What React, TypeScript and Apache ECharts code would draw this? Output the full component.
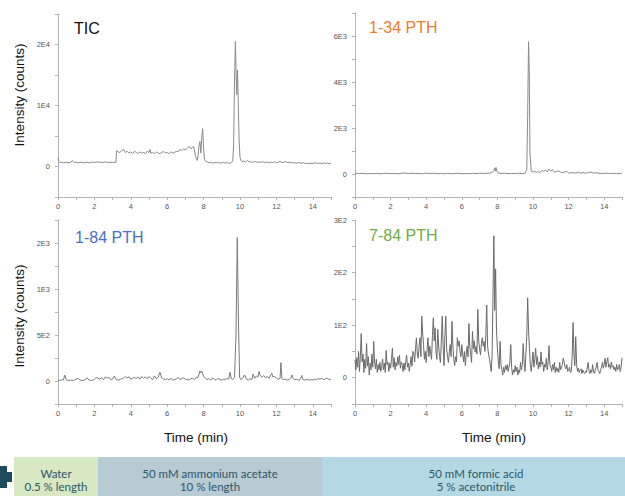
import React, { useEffect, useRef } from "react";
import * as echarts from "echarts";

// ---------- DATA ----------
const panelTitles = ["TIC", "1-34 PTH", "1-84 PTH", "7-84 PTH"];
const xTickLabels = ["0", "2", "4", "6", "8", "10", "12", "14"];
const yTickLabelsTIC: Record<number, string> = { 0: "0", 10000: "1E4", 20000: "2E4" };
const yTickLabels134: Record<number, string> = { 0: "0", 2000: "2E3", 4000: "4E3", 6000: "6E3" };
const yTickLabels184: Record<number, string> = { 0: "0", 500: "5E2", 1000: "1E3", 1500: "2E3" };
const yTickLabels784: Record<number, string> = { 0: "0", 100: "1E2", 200: "2E2", 300: "3E2" };

const ticData: [number, number][] = [
  [0, 1400], [0.05, 800], [0.1, 650], [0.2, 700], [0.3, 600], [0.4, 700], [0.5, 650], [0.6, 600], [0.7, 750], [0.8, 900],
  [0.9, 650], [1.0, 700], [1.1, 600], [1.2, 650], [1.3, 700], [1.4, 600], [1.5, 650], [1.6, 700], [1.7, 600], [1.8, 650],
  [1.9, 750], [2.0, 650], [2.1, 700], [2.2, 800], [2.3, 650], [2.4, 700], [2.5, 650], [2.6, 750], [2.7, 700], [2.8, 650],
  [2.9, 700], [3.0, 650], [3.1, 700], [3.18, 650], [3.22, 2600], [3.3, 2400], [3.4, 2300], [3.5, 2600], [3.6, 2800], [3.7, 2300],
  [3.8, 2500], [3.9, 2200], [4.0, 2400], [4.1, 2100], [4.2, 2500], [4.3, 2300], [4.4, 2100], [4.5, 2400], [4.6, 2200], [4.7, 2300],
  [4.8, 2100], [4.9, 2500], [5.0, 2300], [5.05, 2800], [5.1, 2200], [5.2, 2300], [5.3, 2100], [5.4, 2400], [5.5, 2200], [5.6, 2100],
  [5.7, 2300], [5.8, 2500], [5.9, 2200], [6.0, 2300], [6.1, 2100], [6.2, 2400], [6.3, 2200], [6.4, 2300], [6.5, 2500], [6.6, 2400],
  [6.7, 2800], [6.8, 2600], [6.9, 2900], [7.0, 2700], [7.1, 3000], [7.2, 3300], [7.3, 2900], [7.4, 3200], [7.45, 3300], [7.5, 2600],
  [7.55, 1800], [7.6, 1300], [7.65, 1000], [7.7, 1800], [7.75, 3500], [7.8, 4100], [7.85, 2200], [7.9, 4800], [7.95, 6200], [8.0, 2800],
  [8.05, 1200], [8.1, 900], [8.2, 750], [8.3, 600], [8.4, 700], [8.5, 550], [8.6, 650], [8.7, 600], [8.8, 700], [8.9, 550],
  [9.0, 600], [9.1, 700], [9.2, 550], [9.3, 650], [9.4, 500], [9.5, 600], [9.6, 900], [9.65, 3500], [9.7, 14000], [9.75, 20500],
  [9.78, 16000], [9.82, 11800], [9.86, 15800], [9.9, 11000], [9.95, 4500], [10.0, 1500], [10.05, 1000], [10.1, 800], [10.2, 900], [10.3, 700],
  [10.4, 1000], [10.5, 750], [10.6, 800], [10.7, 650], [10.8, 850], [10.9, 700], [11.0, 750], [11.1, 650], [11.2, 800], [11.3, 700],
  [11.4, 650], [11.5, 750], [11.6, 600], [11.7, 700], [11.8, 650], [11.9, 800], [12.0, 600], [12.1, 700], [12.2, 850], [12.3, 650],
  [12.4, 700], [12.5, 800], [12.6, 650], [12.7, 700], [12.8, 600], [12.9, 650], [13.0, 600], [13.1, 550], [13.2, 650], [13.3, 600],
  [13.4, 550], [13.5, 600], [13.6, 500], [13.7, 550], [13.8, 450], [13.9, 550], [14.0, 500], [14.1, 600], [14.2, 550], [14.3, 500],
  [14.4, 550], [14.5, 450], [14.6, 600], [14.7, 500], [14.8, 550], [14.9, 450], [15.0, 550],
];

const pth134Data: [number, number][] = [
  [0, 40], [0.2, 15], [0.4, 30], [0.6, 10], [0.8, 25], [1.0, 15], [1.2, 30], [1.4, 10], [1.6, 20], [1.8, 35],
  [2.0, 15], [2.2, 25], [2.4, 10], [2.6, 30], [2.8, 45], [3.0, 20], [3.2, 30], [3.4, 15], [3.6, 25], [3.8, 10],
  [4.0, 40], [4.2, 20], [4.4, 30], [4.6, 15], [4.8, 25], [5.0, 10], [5.2, 30], [5.4, 15], [5.6, 20], [5.8, 30],
  [6.0, 10], [6.2, 25], [6.4, 15], [6.6, 30], [6.8, 20], [7.0, 35], [7.2, 15], [7.4, 30], [7.6, 40], [7.7, 60],
  [7.8, 150], [7.85, 260], [7.88, 120], [7.92, 290], [7.97, 100], [8.05, 40], [8.2, 20], [8.4, 35], [8.6, 15], [8.8, 25],
  [9.0, 20], [9.2, 30], [9.4, 15], [9.55, 25], [9.65, 200], [9.7, 2500], [9.75, 5750], [9.79, 4500], [9.83, 900], [9.9, 120],
  [10.0, 80], [10.1, 120], [10.2, 70], [10.3, 100], [10.4, 60], [10.5, 160], [10.6, 110], [10.7, 180], [10.8, 90], [10.9, 220],
  [11.0, 120], [11.1, 190], [11.2, 80], [11.3, 110], [11.45, 130], [11.6, 60], [11.75, 80], [11.9, 120], [12.0, 40], [12.2, 60],
  [12.4, 40], [12.55, 80], [12.7, 30], [12.8, 70], [12.95, 30], [13.1, 60], [13.25, 80], [13.4, 40], [13.55, 60], [13.7, 30],
  [13.9, 20], [14.1, 40], [14.3, 20], [14.5, 30], [14.7, 15], [14.9, 25], [15.0, 20],
];

const pth184Data: [number, number][] = [
  [0, 10], [0.1, 5], [0.2, 15], [0.3, 10], [0.37, 65], [0.45, 15], [0.55, 5], [0.7, 10], [0.85, 5], [1.0, 20],
  [1.1, 30], [1.2, 10], [1.35, 5], [1.5, 15], [1.6, 35], [1.7, 10], [1.85, 5], [2.0, 15], [2.1, 40], [2.2, 30],
  [2.3, 20], [2.4, 35], [2.5, 15], [2.6, 45], [2.7, 30], [2.8, 40], [2.9, 15], [3.0, 20], [3.1, 55], [3.2, 15],
  [3.3, 10], [3.45, 20], [3.6, 30], [3.7, 50], [3.8, 35], [3.9, 45], [4.0, 20], [4.1, 30], [4.2, 40], [4.3, 25],
  [4.4, 45], [4.5, 20], [4.6, 50], [4.7, 30], [4.8, 45], [4.9, 25], [5.0, 50], [5.1, 30], [5.2, 15], [5.3, 55],
  [5.4, 25], [5.5, 40], [5.6, 95], [5.7, 35], [5.8, 20], [5.9, 15], [6.0, 25], [6.1, 10], [6.2, 30], [6.3, 10],
  [6.4, 15], [6.5, 20], [6.6, 40], [6.7, 15], [6.8, 25], [6.9, 35], [7.0, 15], [7.1, 20], [7.2, 10], [7.3, 25],
  [7.4, 30], [7.5, 15], [7.6, 35], [7.7, 40], [7.8, 110], [7.85, 90], [7.9, 105], [8.0, 50], [8.1, 30], [8.2, 15],
  [8.3, 25], [8.4, 10], [8.5, 35], [8.6, 15], [8.7, 10], [8.8, 30], [8.9, 15], [9.0, 10], [9.1, 20], [9.2, 15],
  [9.3, 30], [9.38, 20], [9.45, 95], [9.52, 25], [9.6, 15], [9.7, 40], [9.78, 500], [9.85, 1560], [9.92, 600], [9.98, 40],
  [10.05, 15], [10.15, 30], [10.25, 65], [10.35, 20], [10.45, 10], [10.55, 25], [10.65, 15], [10.72, 75], [10.8, 30], [10.9, 55],
  [10.98, 40], [11.05, 105], [11.12, 55], [11.2, 40], [11.3, 60], [11.4, 35], [11.5, 50], [11.6, 30], [11.7, 70], [11.75, 85],
  [11.8, 45], [11.9, 50], [12.0, 30], [12.1, 20], [12.2, 30], [12.25, 200], [12.3, 25], [12.4, 15], [12.5, 20], [12.6, 10],
  [12.7, 15], [12.8, 35], [12.85, 65], [12.9, 30], [13.0, 15], [13.1, 20], [13.2, 10], [13.3, 15], [13.4, 60], [13.45, 15],
  [13.6, 10], [13.7, 20], [13.8, 10], [13.9, 15], [14.0, 10], [14.1, 20], [14.2, 15], [14.3, 25], [14.4, 20], [14.5, 30],
  [14.6, 15], [14.7, 25], [14.8, 30], [14.9, 15], [15.0, 20],
];

const pth784Data: [number, number][] = [
  [0.0, 34], [0.05, 15], [0.1, 38], [0.15, 20], [0.2, 50], [0.25, 12], [0.3, 40], [0.35, 84], [0.4, 30], [0.45, 45],
  [0.5, 10], [0.55, 35], [0.6, 18], [0.65, 65], [0.7, 22], [0.75, 40], [0.8, 5], [0.85, 28], [0.9, 15], [0.95, 45],
  [1.0, 20], [1.05, 69], [1.1, 30], [1.15, 17], [1.2, 35], [1.25, 10], [1.3, 25], [1.35, 15], [1.4, 29], [1.45, 12],
  [1.5, 22], [1.55, 36], [1.6, 15], [1.65, 28], [1.7, 10], [1.75, 52], [1.8, 25], [1.85, 30], [1.9, 12], [1.95, 28],
  [2.0, 18], [2.05, 35], [2.1, 56], [2.15, 20], [2.2, 38], [2.25, 15], [2.3, 29], [2.35, 22], [2.4, 40], [2.45, 25],
  [2.5, 43], [2.55, 18], [2.6, 30], [2.65, 25], [2.7, 12], [2.75, 28], [2.8, 15], [2.85, 30], [2.9, 43], [2.95, 20],
  [3.0, 28], [3.05, 12], [3.1, 25], [3.15, 40], [3.2, 22], [3.25, 50], [3.3, 47], [3.35, 30], [3.4, 55], [3.45, 76],
  [3.5, 45], [3.55, 37], [3.6, 60], [3.65, 76], [3.7, 40], [3.75, 117], [3.8, 85], [3.85, 63], [3.9, 35], [3.95, 50],
  [4.0, 29], [4.05, 55], [4.1, 76], [4.15, 40], [4.2, 60], [4.25, 47], [4.3, 35], [4.35, 80], [4.4, 114], [4.45, 70],
  [4.5, 95], [4.55, 49], [4.6, 35], [4.65, 92], [4.7, 60], [4.75, 40], [4.8, 29], [4.85, 70], [4.9, 117], [4.95, 60],
  [5.0, 23], [5.05, 80], [5.1, 117], [5.15, 55], [5.2, 40], [5.25, 29], [5.3, 50], [5.35, 63], [5.4, 40], [5.45, 107],
  [5.5, 60], [5.55, 35], [5.6, 23], [5.65, 40], [5.7, 30], [5.75, 76], [5.8, 60], [5.85, 70], [5.9, 49], [5.95, 40],
  [6.0, 63], [6.05, 45], [6.1, 30], [6.15, 50], [6.2, 23], [6.25, 45], [6.3, 60], [6.35, 40], [6.4, 103], [6.45, 60],
  [6.5, 45], [6.55, 29], [6.6, 88], [6.65, 55], [6.7, 70], [6.75, 49], [6.8, 60], [6.85, 45], [6.9, 130], [6.95, 70],
  [7.0, 55], [7.05, 43], [7.1, 65], [7.15, 76], [7.2, 60], [7.25, 69], [7.3, 50], [7.35, 80], [7.4, 138], [7.45, 60],
  [7.5, 45], [7.55, 37], [7.6, 25], [7.65, 12], [7.7, 40], [7.75, 150], [7.8, 270], [7.85, 128], [7.9, 207], [7.95, 90],
  [8.0, 56], [8.05, 30], [8.1, 17], [8.15, 69], [8.2, 25], [8.25, 15], [8.3, 5], [8.35, 20], [8.4, 10], [8.45, 23],
  [8.5, 15], [8.55, 25], [8.6, 12], [8.65, 20], [8.7, 30], [8.75, 63], [8.8, 20], [8.85, 5], [8.9, 15], [8.95, 10],
  [9.0, 23], [9.05, 12], [9.1, 20], [9.15, 5], [9.2, 15], [9.25, 10], [9.3, 29], [9.35, 15], [9.4, 25], [9.45, 65],
  [9.5, 30], [9.55, 12], [9.6, 45], [9.65, 78], [9.7, 152], [9.75, 90], [9.8, 56], [9.85, 25], [9.9, 12], [9.95, 30],
  [10.0, 49], [10.05, 20], [10.1, 35], [10.15, 56], [10.2, 25], [10.25, 40], [10.3, 17], [10.35, 30], [10.4, 20], [10.45, 49],
  [10.5, 25], [10.55, 30], [10.6, 12], [10.65, 25], [10.7, 20], [10.75, 37], [10.8, 15], [10.85, 30], [10.9, 61], [10.95, 25],
  [11.0, 20], [11.05, 12], [11.1, 25], [11.15, 15], [11.2, 29], [11.25, 10], [11.3, 20], [11.35, 12], [11.4, 18], [11.45, 10],
  [11.5, 29], [11.55, 15], [11.6, 20], [11.65, 25], [11.7, 37], [11.75, 30], [11.8, 20], [11.85, 17], [11.9, 25], [11.95, 12],
  [12.0, 14], [12.05, 20], [12.1, 10], [12.15, 12], [12.2, 40], [12.25, 105], [12.3, 45], [12.35, 23], [12.4, 78], [12.45, 25],
  [12.5, 12], [12.55, 18], [12.6, 10], [12.65, 15], [12.7, 17], [12.75, 8], [12.8, 15], [12.85, 10], [12.9, 8], [12.95, 12],
  [13.0, 10], [13.05, 20], [13.1, 29], [13.15, 12], [13.2, 8], [13.25, 15], [13.3, 10], [13.35, 25], [13.4, 12], [13.45, 8],
  [13.5, 15], [13.55, 20], [13.6, 29], [13.65, 15], [13.7, 12], [13.75, 8], [13.8, 15], [13.85, 20], [13.9, 29], [13.95, 18],
  [14.0, 25], [14.05, 37], [14.1, 20], [14.15, 30], [14.2, 38], [14.25, 20], [14.3, 25], [14.35, 17], [14.4, 30], [14.45, 20],
  [14.5, 23], [14.55, 15], [14.6, 20], [14.65, 12], [14.7, 25], [14.75, 15], [14.8, 17], [14.85, 25], [14.9, 12], [14.95, 20],
  [15.0, 38],
];

const yAxisTitle = "Intensity (counts)";
const xAxisTitle = "Time (min)";
const bufferLines: [string, string][] = [
  ["Water", "0.5 % length"],
  ["50 mM ammonium acetate", "10 % length"],
  ["50 mM formic acid", "5 % acetonitrile"],
];

// ---------- CHART ----------
const FONT = "Liberation Sans";
const AXIS_COLOR = "#b3b3b3";

function makeXAxis(gridIndex: number) {
  return {
    type: "value",
    gridIndex,
    min: 0,
    max: 15,
    interval: 1,
    axisLine: { show: true, onZero: false, lineStyle: { color: AXIS_COLOR, width: 1 } },
    axisTick: { show: true, length: 3, lineStyle: { color: AXIS_COLOR } },
    splitLine: { show: false },
    axisLabel: {
      color: "#555",
      fontSize: 7.5,
      fontFamily: FONT,
      margin: 5,
      formatter: (v: number) => (xTickLabels.includes(String(v)) ? String(v) : ""),
    },
  };
}

function makeYAxis(gridIndex: number, min: number, max: number, interval: number, labels: Record<number, string>) {
  return {
    type: "value",
    gridIndex,
    min,
    max,
    interval,
    axisLine: { show: true, onZero: false, lineStyle: { color: AXIS_COLOR, width: 1 } },
    axisTick: { show: true, length: 3, lineStyle: { color: AXIS_COLOR } },
    splitLine: { show: false },
    axisLabel: {
      color: "#555",
      fontSize: 7.5,
      fontFamily: FONT,
      margin: 8,
      formatter: (v: number) => (labels[v] !== undefined ? labels[v] : ""),
    },
  };
}

function makeSeries(idx: number, data: [number, number][], color: string) {
  return {
    type: "line",
    xAxisIndex: idx,
    yAxisIndex: idx,
    data,
    showSymbol: false,
    symbol: "none",
    lineStyle: { color, width: 1 },
    clip: true,
  };
}

export default function App() {
  const ref = useRef<HTMLDivElement>(null);

  useEffect(() => {
    document.body.style.margin = "0";
    if (!ref.current) return;
    const chart = echarts.init(ref.current, undefined, { renderer: "svg" });

    const textColor = "#2b566a";
    const bar = [
      { x: 14, w: 84, color: "#d8e8c2", cx: 56 },
      { x: 98, w: 224, color: "#b8cad2", cx: 210 },
      { x: 322, w: 303, color: "#b5d9e4", cx: 476 },
    ];

    const graphics: any[] = [];
    bar.forEach((b, i) => {
      graphics.push({ type: "rect", shape: { x: b.x, y: 457, width: b.w, height: 39 }, style: { fill: b.color } });
      [0, 1].forEach((k) => {
        graphics.push({
          type: "text",
          x: b.cx,
          y: k === 0 ? 473 : 486.5,
          style: {
            text: bufferLines[i][k],
            fill: textColor,
            fontFamily: "Lato",
            fontSize: 11.5,
            textAlign: "center",
            textVerticalAlign: "middle",
          },
        });
      });
    });
    // partial plus sign at left edge
    graphics.push({ type: "rect", shape: { x: 0, y: 466, width: 7, height: 22 }, style: { fill: "#1d4b5f" } });
    graphics.push({ type: "rect", shape: { x: 0, y: 472, width: 12, height: 10 }, style: { fill: "#1d4b5f" } });

    const titleDefs = [
      { x: 74, y: 28, color: "#111111" },
      { x: 369, y: 27, color: "#ED7D31" },
      { x: 75, y: 237, color: "#4472C4" },
      { x: 369, y: 235, color: "#70AD47" },
    ];
    titleDefs.forEach((t, i) => {
      graphics.push({
        type: "text",
        x: t.x,
        y: t.y,
        style: { text: panelTitles[i], fill: t.color, fontFamily: FONT, fontSize: 16, textAlign: "left", textVerticalAlign: "middle" },
      });
    });

    [95, 316].forEach((cy) => {
      graphics.push({
        type: "text",
        x: 19,
        y: cy,
        rotation: Math.PI / 2,
        style: { text: yAxisTitle, fill: "#111", fontFamily: FONT, fontSize: 13.5, textAlign: "center", textVerticalAlign: "middle" },
      });
    });
    [196, 494].forEach((cx) => {
      graphics.push({
        type: "text",
        x: cx,
        y: 437,
        style: { text: xAxisTitle, fill: "#111", fontFamily: FONT, fontSize: 13.5, textAlign: "center", textVerticalAlign: "middle" },
      });
    });

    chart.setOption({
      animation: false,
      backgroundColor: "#ffffff",
      grid: [
        { left: 58, top: 14, width: 273, height: 183 },
        { left: 355, top: 13, width: 276, height: 184 },
        { left: 58, top: 220, width: 273, height: 184 },
        { left: 355, top: 220, width: 276, height: 184 },
      ],
      xAxis: [makeXAxis(0), makeXAxis(1), makeXAxis(2), makeXAxis(3)],
      yAxis: [
        makeYAxis(0, -5000, 25000, 5000, yTickLabelsTIC),
        makeYAxis(1, -1000, 7000, 1000, yTickLabels134),
        makeYAxis(2, -250, 1750, 250, yTickLabels184),
        makeYAxis(3, -50, 300, 50, yTickLabels784),
      ],
      series: [
        makeSeries(0, ticData, "#8a8a8a"),
        makeSeries(1, pth134Data, "#8a8a8a"),
        makeSeries(2, pth184Data, "#7a7a7a"),
        makeSeries(3, pth784Data, "#6a6a6a"),
      ],
      graphic: graphics,
    });

    return () => chart.dispose();
  }, []);

  return <div ref={ref} style={{ width: 625, height: 496 }} />;
}
